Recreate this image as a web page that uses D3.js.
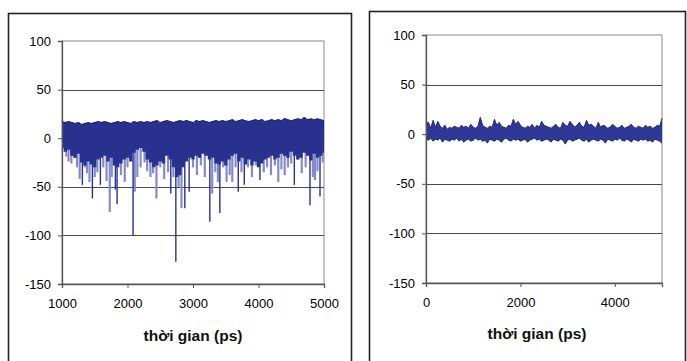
<!DOCTYPE html>
<html><head><meta charset="utf-8">
<script src="https://cdn.jsdelivr.net/npm/d3@7"></script>
<style>body{margin:0;background:#fff}svg{display:block}</style>
</head><body>
<svg id="c" width="687" height="361"></svg>
<script>
// ---------- data ----------
const yTicks = [100, 50, 0, -50, -100, -150];
const leftXTicks = [1000, 2000, 3000, 4000, 5000];
const rightXTicks = [0, 2000, 4000];
const axisTitle = "thời gian (ps)";

// left: samples every 50 ps from 1000 to 5000
const leftStart = 1000, leftStep = 50;
const leftUpper = [17,16,17,16,15,16,14,15,16,15,16,17,16,17,16,15,16,17,16,17,
  16,15,17,16,17,16,17,16,17,18,16,17,18,17,16,17,18,17,18,17,16,18,17,18,17,16,
  17,18,17,18,17,18,19,17,18,19,18,17,18,19,18,19,17,18,19,18,19,18,20,19,18,19,
  20,19,21,19,20,19,20,19,18];
const leftLower = [-10,-14,-12,-18,-20,-16,-25,-28,-24,-27,-30,-22,-20,-18,-24,-20,
  -28,-30,-26,-22,-20,-24,-15,-12,-10,-14,-22,-25,-30,-28,-24,-26,-18,-22,-30,-40,
  -38,-30,-24,-20,-22,-18,-20,-16,-18,-22,-20,-26,-27,-24,-28,-22,-18,-16,-24,-20,
  -27,-22,-28,-24,-30,-26,-22,-20,-18,-22,-20,-16,-18,-20,-14,-18,-22,-20,-15,-18,
  -23,-16,-20,-18,-15];
// spikes: time, value, shade (0 dark, 1 light)
const leftSpikeT = [1066,1100,1143,1190,1230,1270,1311,1350,1382,1420,1464,1500,1540,1586,
  1630,1680,1729,1760,1815,1841,1900,1958,2000,2085,2111,2150,2200,2260,2300,2350,2391,
  2442,2500,2560,2620,2661,2700,2738,2780,2824,2875,2941,3000,3060,3120,3180,3257,3293,
  3340,3380,3410,3460,3512,3560,3600,3650,3691,3740,3783,3840,3900,3960,4022,4080,4130,
  4190,4250,4302,4350,4400,4450,4500,4547,4600,4660,4720,4786,4830,4863,4900,4939,4980];
const leftSpikeV = [-19,-24,-26,-20,-30,-42,-48,-30,-36,-45,-62,-40,-35,-48,-30,-44,-76,
  -40,-53,-68,-38,-45,-30,-100,-55,-40,-30,-25,-34,-40,-36,-62,-30,-42,-35,-57,-40,-127,
  -50,-72,-72,-55,-30,-38,-28,-40,-86,-57,-35,-45,-77,-30,-45,-38,-45,-30,-55,-35,-48,
  -30,-40,-28,-43,-35,-30,-38,-28,-45,-32,-38,-30,-26,-48,-22,-36,-30,-69,-40,-43,-34,
  -60,-25];
const leftSpikeS = [1,1,1,1,1,1,0,1,1,1,0,1,1,0,1,1,1,1,0,0,1,1,1,0,1,1,1,1,1,1,1,
  1,1,1,1,0,1,0,1,1,0,0,1,1,1,1,0,1,1,1,0,1,1,1,1,1,0,1,0,1,1,1,0,1,1,1,1,1,1,1,1,
  1,0,1,1,1,0,1,1,1,0,1];

// right: samples every 50 ps from 0 to 5000
const rightStart = 0, rightStep = 50;
const rightUpper = [11,12,6,14,7,13,8,6,9,5,7,6,8,7,6,9,7,8,6,10,7,6,8,17,9,7,6,8,
  7,15,9,12,8,7,6,9,8,15,10,13,9,7,6,8,7,10,6,9,7,13,9,8,7,6,8,10,7,6,12,9,8,13,10,
  7,9,12,8,7,14,9,10,8,6,12,7,9,8,6,7,10,8,6,7,9,6,7,8,10,7,6,8,7,6,9,7,8,6,7,9,8,16];
const rightLower = [-5,-6,-4,-7,-5,-6,-4,-8,-5,-6,-7,-5,-6,-4,-7,-5,-8,-6,-5,-7,-6,-4,
  -6,-5,-7,-6,-9,-5,-6,-7,-5,-6,-8,-5,-4,-6,-7,-5,-6,-5,-7,-6,-5,-8,-6,-5,-4,-6,-5,
  -7,-6,-5,-6,-8,-5,-6,-7,-5,-6,-10,-6,-5,-7,-6,-5,-4,-6,-7,-5,-8,-6,-5,-6,-7,-5,-6,
  -9,-5,-6,-7,-5,-6,-4,-6,-7,-5,-6,-8,-5,-6,-7,-5,-6,-5,-7,-6,-8,-5,-6,-7,-9];

// ---------- drawing ----------
const svg = d3.select("#c");
const DARK = "#29318e", LIGHT = "#858bc9", RIGHTC = "#2f3896";
const font = "Arial, 'Liberation Sans', sans-serif";

function panel(o) {
  svg.append("rect").attr("x", o.box[0]).attr("y", o.box[1])
    .attr("width", o.box[2]).attr("height", o.box[3])
    .attr("fill", "none").attr("stroke", "#222").attr("stroke-width", 1.6);
  const x = d3.scaleLinear().domain(o.xdom).range(o.xr);
  const y = d3.scaleLinear().domain([-150, 100]).range(o.yr);
  const g = svg.append("g");
  g.append("rect").attr("x", o.xr[0]).attr("y", o.yr[1])
    .attr("width", o.xr[1]-o.xr[0]).attr("height", o.yr[0]-o.yr[1])
    .attr("fill", "none").attr("stroke", "#8a8a92").attr("stroke-width", 1);
  g.selectAll(".gl").data(yTicks.filter(v => v > -150 && v < 100)).join("line")
    .attr("x1", o.xr[0]).attr("x2", o.xr[1])
    .attr("y1", d => Math.round(y(d))+0.5).attr("y2", d => Math.round(y(d))+0.5)
    .attr("stroke", "#4a4a4a").attr("stroke-width", 1.2);
  o.draw(g, x, y);
  const fmt = d => String(d);
  const ya = d3.axisLeft(y).tickValues(yTicks).tickSize(4).tickPadding(7).tickFormat(fmt);
  const yg = g.append("g").attr("transform", `translate(${o.xr[0]},0)`).call(ya);
  const xa = d3.axisBottom(x).tickValues(o.xt).tickSize(4).tickPadding(11).tickFormat(fmt);
  const xg = g.append("g").attr("transform", `translate(0,${o.yr[0]})`).call(xa);
  [yg, xg].forEach(a => {
    a.select(".domain").attr("stroke", "#555").attr("stroke-width", 1.3);
    a.selectAll(".tick line").attr("stroke", "#555");
    a.selectAll("text").attr("fill", "#000").style("font-family", font).style("font-size", "13px");
  });
  svg.append("text").attr("x", o.title[0]).attr("y", o.title[1])
    .attr("text-anchor", "middle").style("font-family", font)
    .style("font-size", "15.5px").style("font-weight", "bold").attr("fill", "#111")
    .text(axisTitle);
}

panel({
  box: [8.5, 13.5, 343, 380],
  xdom: [1000, 5000], xr: [62, 324], yr: [284, 41], xt: leftXTicks,
  title: [193, 341],
  draw: (g, x, y) => {
    const t = i => leftStart + i * leftStep;
    const order = d3.range(leftSpikeT.length).sort((a, b) => leftSpikeS[b] - leftSpikeS[a]);
    g.selectAll(".sp").data(order).join("line")
      .attr("x1", i => x(leftSpikeT[i])).attr("x2", i => x(leftSpikeT[i]))
      .attr("y1", y(0)).attr("y2", i => y(leftSpikeV[i]))
      .attr("stroke", i => leftSpikeS[i] ? LIGHT : DARK)
      .attr("stroke-width", i => leftSpikeS[i] ? 2.2 : 1.4);
    const area = d3.area().x((d, i) => x(t(i))).y0((d, i) => y(leftLower[i])).y1(d => y(d))
      .curve(d3.curveStep);
    g.append("path").datum(leftUpper).attr("d", area).attr("fill", DARK);
    g.append("path").datum(leftUpper)
      .attr("d", d3.line().x((d, i) => x(t(i))).y(d => y(d)))
      .attr("fill", "none").attr("stroke", "#1c2270").attr("stroke-width", 1.2);
  }
});

panel({
  box: [369.5, 11.5, 316, 380],
  xdom: [0, 5000], xr: [426, 662], yr: [283, 35], xt: rightXTicks,
  title: [537, 339],
  draw: (g, x, y) => {
    const t = i => rightStart + i * rightStep;
    const area = d3.area().x((d, i) => x(t(i))).y0((d, i) => y(rightLower[i])).y1(d => y(d));
    g.append("path").datum(rightUpper).attr("d", area).attr("fill", RIGHTC);
    g.append("path").datum(rightUpper)
      .attr("d", d3.line().x((d, i) => x(t(i))).y(d => y(d)))
      .attr("fill", "none").attr("stroke", "#222a7a").attr("stroke-width", 1);
    g.append("path").datum(rightLower)
      .attr("d", d3.line().x((d, i) => x(t(i))).y(d => y(d)))
      .attr("fill", "none").attr("stroke", "#222a7a").attr("stroke-width", 1);
  }
});
</script>
</body></html>
